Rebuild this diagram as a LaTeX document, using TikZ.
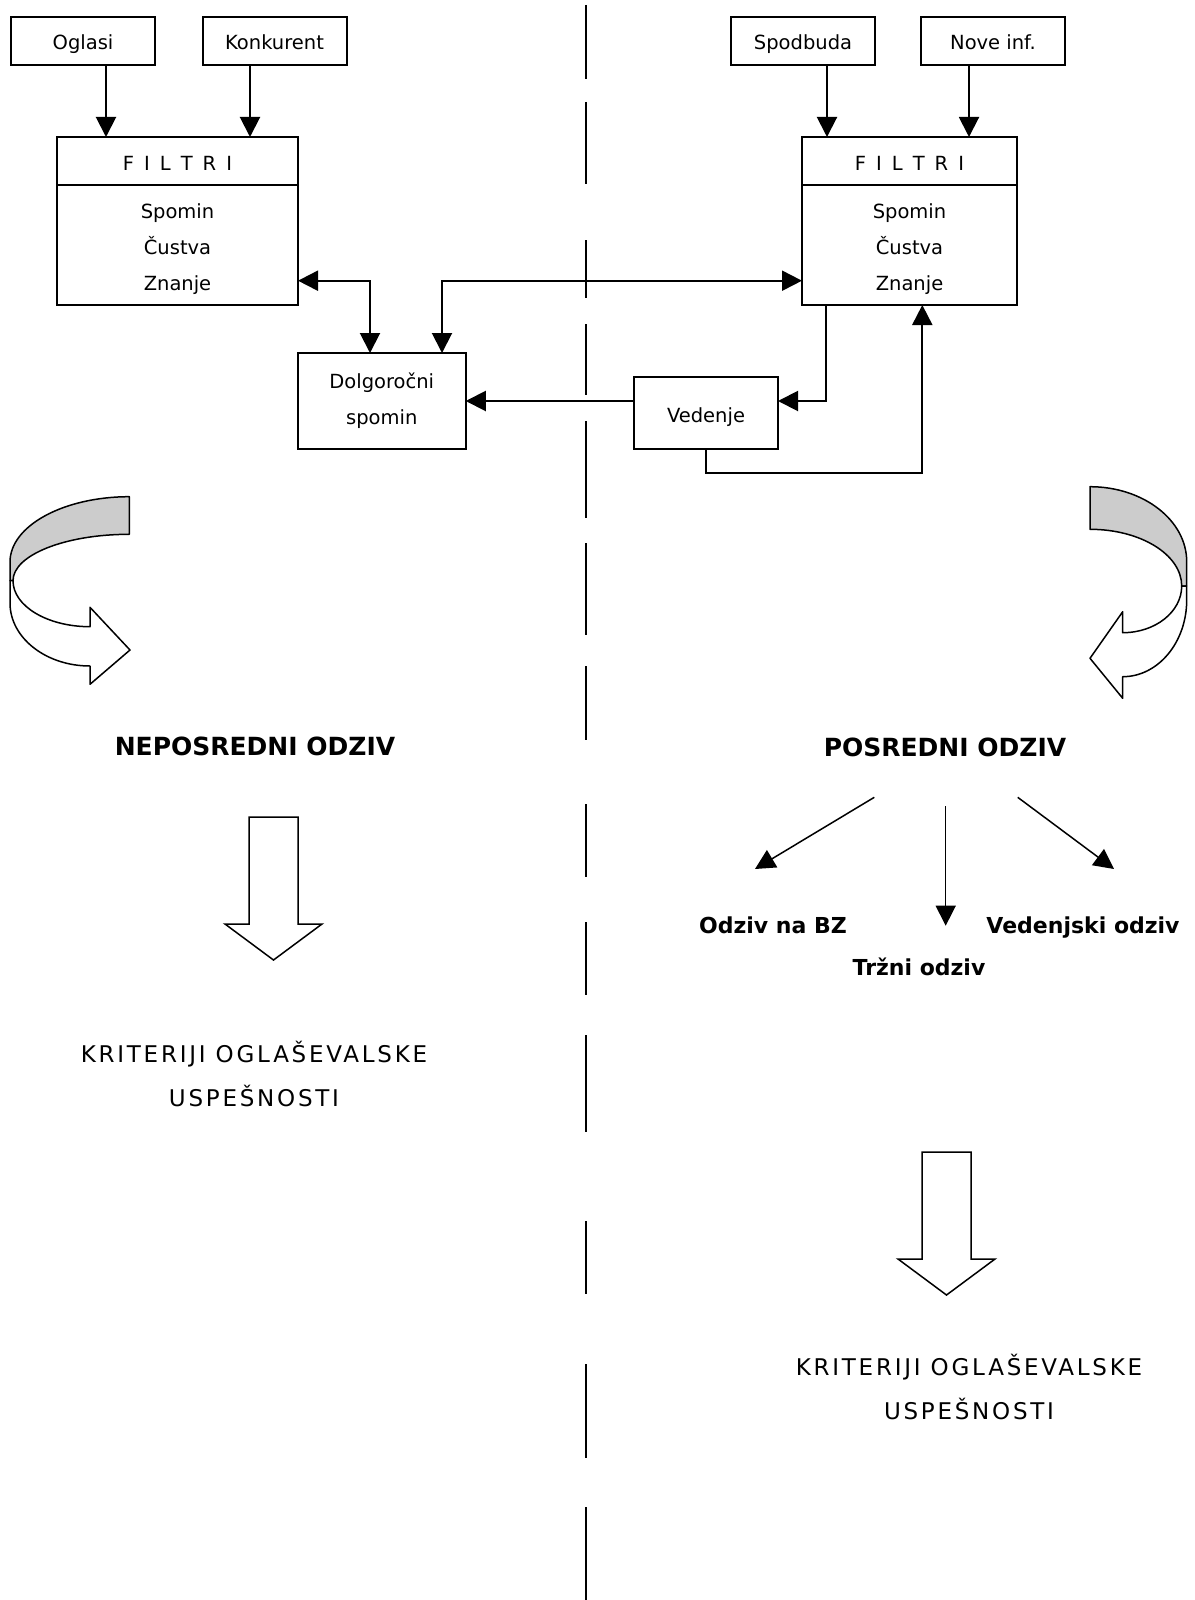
\documentclass[tikz,border=0pt]{standalone}
\usepackage{fontspec}
\setmainfont{DejaVu Sans}
\newfontfamily\widefont[LetterSpace=12]{DejaVu Sans}
\usetikzlibrary{arrows.meta,positioning}
\tikzset{
box/.style={draw, line width=2pt, outer sep=0pt, minimum width=144pt,
    minimum height=48pt, align=center, font=\fontsize{19.5}{36}\selectfont},
oneline/.style={text height=18pt, text depth=0pt},
conn/.style={line width=2pt, -{Triangle[length=20pt,width=20pt]}},
conn2/.style={line width=2pt,
    {Triangle[length=20pt,width=20pt]}-{Triangle[length=20pt,width=20pt]}},
branch/.style={line width=1.5pt, -{Triangle[length=20pt,width=20pt]}},
heading/.style={anchor=base, font=\fontsize{25}{30}\selectfont\bfseries},
response/.style={anchor=base, font=\fontsize{22}{26}\selectfont\bfseries},
criteria/.style={align=center, font=\widefont\fontsize{23}{44}\selectfont},
blockarr/.style={draw, line width=1.5pt, fill=white},
curl/.style={draw, line width=1.5pt, line join=round},
divider/.style={line width=2pt}
}
\newcommand{\filtri}{{\spaceskip=10pt F I L T R I}}
\newcommand{\blockdown}[1]{\draw[blockarr] (#1) ++(-24.5,0) -- ++(49,0)
    -- ++(0,107) -- ++(24,0) -- ++(-48.5,36) -- ++(-48.5,-36) -- ++(24,0) -- cycle;}

\begin{document}
\begin{tikzpicture}[x=1pt, y=-1pt]
\useasboundingbox (0,0) rectangle (1194,1600);

\foreach \a/\b in {5/79,102/184,240/298,324/395,421/518,543/635,666/740,
    804/877,922/995,1035/1132,1221/1294,1364/1458,1507/1600}
    \draw[divider] (586,\a) -- (586,\b);

\node[box, oneline] (oglasi) at (83,41) {Oglasi};
\node[box, oneline] (konk) at (274.5,41) {Konkurent};
\node[box, oneline] (spod) at (803,41) {Spodbuda};
\node[box, oneline] (nove) at (993,41) {Nove inf.};

\node[box, oneline, minimum width=241pt] (filtriL) at (177.5,161) {\filtri};
\node[box, minimum width=241pt, minimum height=120pt, below=0pt of filtriL] (memL)
    {\rule{0pt}{23pt}Spomin\\Čustva\\Znanje};
\node[box, oneline, minimum width=215pt] (filtriR) at (909.5,161) {\filtri};
\node[box, minimum width=215pt, minimum height=120pt, below=0pt of filtriR] (memR)
    {\rule{0pt}{23pt}Spomin\\Čustva\\Znanje};

\node[box, minimum width=168pt, minimum height=96pt] (dolg) at (381.75,401)
    {Dolgoročni\\spomin};
\node[box, oneline, minimum height=72pt] (ved) at (706,413) {Vedenje};

\draw[conn] ([xshift=23pt]oglasi.south) -- ([xshift=23pt]oglasi.south |- filtriL.north);
\draw[conn] ([xshift=-24.5pt]konk.south) -- ([xshift=-24.5pt]konk.south |- filtriL.north);
\draw[conn] ([xshift=24pt]spod.south) -- ([xshift=24pt]spod.south |- filtriR.north);
\draw[conn] ([xshift=-24pt]nove.south) -- ([xshift=-24pt]nove.south |- filtriR.north);

\draw[conn2] ([yshift=24.3pt]memL.south east) -| ([xshift=-11.75pt]dolg.north);
\draw[conn2] ([yshift=24.3pt]memR.south west) -| ([xshift=60.25pt]dolg.north);
\draw[conn] ([xshift=24pt]memR.south west) |- ([yshift=12pt]ved.east);
\draw[conn] ([yshift=12pt]ved.west) -- ([yshift=12pt]ved.west -| dolg.east);
\draw[conn] (ved.south) -- ++(0,23.7) -| ([xshift=12.8pt]memR.south);

\draw[curl, fill=gray!40] (129.3,496.7) arc[start angle=270, end angle=180, x radius=119.3, y radius=65.3]
    -- (10,580.7) -- (13,580.7) arc[start angle=180, end angle=270, x radius=116.3, y radius=46.4] -- cycle;
\draw[curl, fill=white] (13,580.7) arc[start angle=180, end angle=90, x radius=77, y radius=46]
    -- (90,607.3) -- (130,650) -- (90,684.3) -- (90,666)
    arc[start angle=90, end angle=180, x radius=80, y radius=63] -- (10,580.7) -- cycle;

\draw[curl, fill=gray!40] (1090,486.7) arc[start angle=270, end angle=360, x radius=96.7, y radius=75]
    -- (1186.7,586) -- (1181.7,586) arc[start angle=0, end angle=-90, x radius=91.7, y radius=56.7] -- cycle;
\draw[curl, fill=white] (1181.7,586) arc[start angle=0, end angle=90, x radius=59, y radius=46.7]
    -- (1122.7,611.7) -- (1090,658.3) -- (1122.7,698.3) -- (1122.7,676.7)
    arc[start angle=90, end angle=0, x radius=64, y radius=76.7] -- (1186.7,586) -- cycle;

\node[heading] (neposr) at (255,755) {NEPOSREDNI ODZIV};
\node[heading] (posr) at (945,756) {POSREDNI ODZIV};

\coordinate (dnL) at (273.5,817);
\blockdown{dnL}
\node[criteria] (kritL) at (254,1074) {KRITERIJI OGLAŠEVALSKE\\USPEŠNOSTI};

\coordinate (bzStart) at (874.3,797.3);
\coordinate (bzTip) at (755,869);
\coordinate (trzStart) at (945.7,806);
\coordinate (trzTip) at (945.7,925.7);
\coordinate (vedStart) at (1017.7,797.3);
\coordinate (vedTip) at (1114,869);
\draw[branch] (bzStart) -- (bzTip);
\draw[branch] (trzStart) -- (trzTip);
\draw[branch] (vedStart) -- (vedTip);

\node[response] (odzBZ) at (773,933) {Odziv na BZ};
\node[response] (trzni) at (919,975) {Tržni odziv};
\node[response] (vedOdz) at (1083,933) {Vedenjski odziv};

\coordinate (dnR) at (946.5,1152);
\blockdown{dnR}
\node[criteria] (kritR) at (969,1387) {KRITERIJI OGLAŠEVALSKE\\USPEŠNOSTI};
\end{tikzpicture}
\end{document}
